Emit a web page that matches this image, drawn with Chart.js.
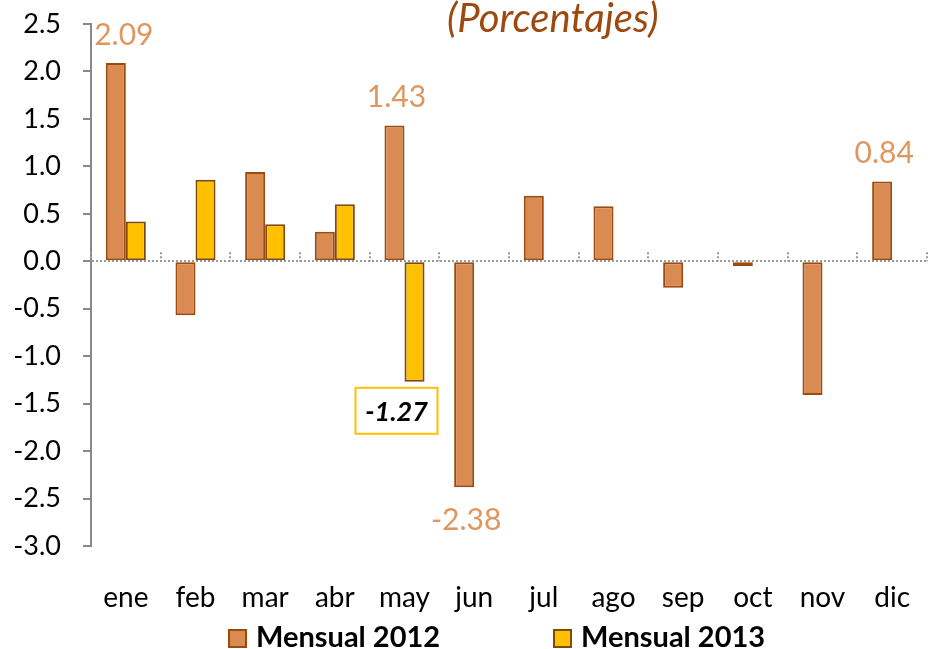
<!DOCTYPE html>
<html>
<head>
<meta charset="utf-8">
<script src="https://cdn.jsdelivr.net/npm/chart.js@4"></script>
<style>
  body { margin: 0; background: #fff; }
  #wrap { position: relative; width: 929px; height: 649px; font-family: Lato, sans-serif; overflow: hidden; }
  #title { position: absolute; left: 447px; top: -7px; font-size: 40px; font-style: italic; color: #9c4a0f; white-space: nowrap; }
  .leg { position: absolute; top: 619px; font-size: 29px; font-weight: bold; color: #000; white-space: nowrap; line-height: 34px; }
  .leg i { display: inline-block; width: 15px; height: 15px; border: 2px solid #9c4a0f; margin-right: 9px; vertical-align: -1px; }
</style>
</head>
<body>
<div id="wrap">
  <canvas id="myChart" width="929" height="649"></canvas>
  <div id="title">(Porcentajes)</div>
  <div class="leg" style="left:228px"><i style="background:#d98b52"></i>Mensual 2012</div>
  <div class="leg" style="left:553px"><i style="background:#ffc000;border-color:#7f4a10"></i>Mensual 2013</div>
</div>
<script>
const months = ["ene", "feb", "mar", "abr", "may", "jun", "jul", "ago", "sep", "oct", "nov", "dic"];
const mensual2012 = [2.09, -0.57, 0.94, 0.31, 1.43, -2.38, 0.69, 0.58, -0.28, -0.05, -1.41, 0.84];
const mensual2013 = [0.42, 0.86, 0.39, 0.60, -1.27, null, null, null, null, null, null, null];
const yTicks = [2.5, 2.0, 1.5, 1.0, 0.5, 0.0, -0.5, -1.0, -1.5, -2.0, -2.5, -3.0];
// which bars get a value label
const labeled2012 = [0, 4, 5, 11];
const labeled2013 = [4];

// value labels + little dotted marks between categories on the zero line
const extras = {
  id: "extras",
  afterDatasetsDraw(chart) {
    const ctx = chart.ctx;
    const x = chart.scales.x, y = chart.scales.y;
    const zero = y.getPixelForValue(0);
    ctx.save();
    ctx.strokeStyle = "#999";
    ctx.lineWidth = 2;
    ctx.setLineDash([2, 2]);
    for (let i = 0; i <= months.length; i++) {
      const px = Math.round(x.getPixelForValue(i - 0.5));
      ctx.beginPath();
      ctx.moveTo(px, zero - 9);
      ctx.lineTo(px, zero);
      ctx.stroke();
    }
    ctx.setLineDash([]);

    ctx.textAlign = "center";
    ctx.textBaseline = "middle";
    ctx.font = "30px Lato";
    ctx.fillStyle = "#e0965f";
    const m0 = chart.getDatasetMeta(0);
    labeled2012.forEach(i => {
      const bar = m0.data[i];
      const v = mensual2012[i];
      const dx = i === 0 ? 8 : 2;
      ctx.fillText(v.toFixed(2), bar.x + dx, v >= 0 ? bar.y - 28 : bar.y + 33);
    });

    const m1 = chart.getDatasetMeta(1);
    ctx.font = "italic bold 27px Lato";
    labeled2013.forEach(i => {
      const bar = m1.data[i];
      const v = mensual2013[i];
      const cx = bar.x - 18, cy = v >= 0 ? bar.y - 29 : bar.y + 29;
      ctx.fillStyle = "#fff";
      ctx.fillRect(cx - 41, cy - 23, 82, 46);
      ctx.strokeStyle = "#ffc000";
      ctx.lineWidth = 2;
      ctx.strokeRect(cx - 41, cy - 23, 82, 46);
      ctx.fillStyle = "#000";
      ctx.fillText(v.toFixed(2), cx, cy + 1);
    });
    ctx.restore();
  }
};

const ctx = document.getElementById("myChart").getContext("2d");
const myChart = new Chart(ctx, {
  type: "bar",
  data: {
    labels: months,
    datasets: [
      {
        label: "Mensual 2012",
        data: mensual2012,
        backgroundColor: "#d98b52",
        borderColor: "#9c4a0f",
        borderWidth: 2,
        borderSkipped: false,
      },
      {
        label: "Mensual 2013",
        data: mensual2013,
        backgroundColor: "#ffc000",
        borderColor: "#7f4a10",
        borderWidth: 2,
        borderSkipped: false,
      },
    ],
  },
  options: {
    responsive: false,
    animation: false,
    layout: { padding: { top: 24, right: 2, bottom: 33, left: 0 } },
    datasets: { bar: { barPercentage: 1, categoryPercentage: 0.575 } },
    plugins: {
      legend: { display: false },
      tooltip: { enabled: false },
    },
    scales: {
      x: {
        grid: { display: false, drawTicks: false },
        border: { display: false },
        ticks: { color: "#000", font: { family: "Lato", size: 28 }, padding: 35, maxRotation: 0 },
        afterFit(s) { s.height = 70; s.paddingLeft = 0; s.paddingRight = 0; },
      },
      y: {
        min: -3,
        max: 2.5,
        afterBuildTicks(s) { s.ticks = yTicks.map(v => ({ value: v })); },
        afterFit(s) { s.width = 91; s.paddingTop = 0; s.paddingBottom = 0; },
        ticks: {
          color: "#000",
          font: { family: "Lato", size: 27 },
          padding: 22,
          callback: v => v.toFixed(1),
        },
        grid: {
          color: c => (c.tick && c.tick.value === 0 ? "#999" : "rgba(0,0,0,0)"),
          lineWidth: 2,
          tickColor: "#888",
          tickLength: 8,
          tickWidth: 2,
        },
        border: { display: true, color: "#888", width: 2, dash: [2, 2] },
      },
    },
  },
  plugins: [extras],
});
</script>
</body>
</html>
